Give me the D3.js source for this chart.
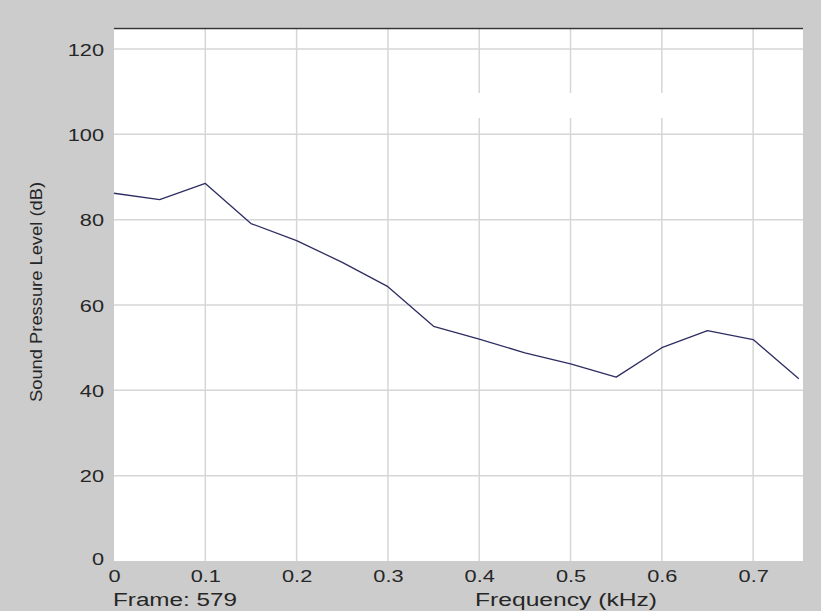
<!DOCTYPE html>
<html>
<head>
<meta charset="utf-8">
<script src="https://cdn.jsdelivr.net/npm/d3@7"></script>
<style>
  html, body { margin: 0; padding: 0; background: #cccccc; }
  svg { display: block; }
  text { font-family: "Liberation Sans", Arial, Helvetica, sans-serif; fill: #262626; }
</style>
</head>
<body>
<svg id="chart" width="821" height="611"></svg>
<script>
// Spectrum of one analysis frame
const frequencyKHz = [0, 0.05, 0.1, 0.15, 0.2, 0.25, 0.3, 0.35, 0.4, 0.45, 0.5, 0.55, 0.6, 0.65, 0.7, 0.75];
const soundPressureDb = [86.2, 84.7, 88.5, 79.1, 75.1, 70.0, 64.3, 55.0, 52.0, 48.8, 46.2, 43.1, 50.0, 54.0, 51.9, 42.7];

const xTickValues = [0, 0.1, 0.2, 0.3, 0.4, 0.5, 0.6, 0.7];
const xTickLabels = ["0", "0.1", "0.2", "0.3", "0.4", "0.5", "0.6", "0.7"];
const yTickValues = [0, 20, 40, 60, 80, 100, 120];
const yTickLabels = ["0", "20", "40", "60", "80", "100", "120"];

const xTitle = "Frequency (kHz)";
const yTitle = "Sound Pressure Level (dB)";
const frameLabel = "Frame: 579";

const plotLeft = 114, plotRight = 803, plotTop = 27.7, plotBottom = 561;
const stretch = 1.28; // wide glyphs of the tick labels

const svg = d3.select("#chart");

const x = d3.scaleLinear().domain([0, 0.7546]).range([plotLeft, plotRight]);
const y = d3.scaleLinear().domain([0, 125]).range([plotBottom, plotTop]);

// plot area
svg.append("rect")
  .attr("x", plotLeft).attr("y", plotTop)
  .attr("width", plotRight - plotLeft).attr("height", plotBottom - plotTop)
  .attr("fill", "#ffffff");

// grid
const grid = svg.append("g").attr("stroke", "#d6d6d6").attr("stroke-width", 1.5);
grid.selectAll("line.v")
  .data(xTickValues.filter(d => d > 0))
  .join("line")
  .attr("class", "v")
  .attr("x1", d => x(d)).attr("x2", d => x(d))
  .attr("y1", plotTop).attr("y2", plotBottom);
grid.selectAll("line.h")
  .data(yTickValues.filter(d => d > 0))
  .join("line")
  .attr("class", "h")
  .attr("x1", plotLeft).attr("x2", plotRight)
  .attr("y1", d => y(d)).attr("y2", d => y(d));

// empty legend box
svg.append("rect")
  .attr("x", 432).attr("y", 93)
  .attr("width", 274).attr("height", 25)
  .attr("fill", "#ffffff");

// top border
svg.append("line")
  .attr("x1", plotLeft).attr("x2", plotRight)
  .attr("y1", plotTop + 0.8).attr("y2", plotTop + 0.8)
  .attr("stroke", "#333333").attr("stroke-width", 1.6);

// spectrum line
const line = d3.line()
  .x((d, i) => x(frequencyKHz[i]))
  .y(d => y(d));
svg.append("path")
  .datum(soundPressureDb)
  .attr("d", line)
  .attr("fill", "none")
  .attr("stroke", "#2d2d62")
  .attr("stroke-width", 1.3)
  .attr("stroke-linejoin", "round");

// x axis
const xAxis = d3.axisBottom(x)
  .tickValues(xTickValues)
  .tickSize(0)
  .tickFormat((d, i) => xTickLabels[i]);
const gx = svg.append("g")
  .attr("transform", `translate(0,${plotBottom})`)
  .call(xAxis);
gx.select(".domain").remove();
gx.selectAll("text")
  .attr("y", 21).attr("dy", null)
  .attr("transform", `scale(${stretch},1)`)
  .style("font-size", "17px")
  .style("font-family", "'Liberation Sans', Arial, sans-serif")
  .attr("fill", "#262626");

// y axis
const yAxis = d3.axisLeft(y)
  .tickValues(yTickValues)
  .tickSize(0)
  .tickFormat((d, i) => yTickLabels[i]);
const gy = svg.append("g")
  .attr("transform", `translate(${plotLeft},0)`)
  .call(yAxis);
gy.select(".domain").remove();
gy.selectAll("text")
  .attr("x", -10 / stretch).attr("dy", "0.36em")
  .attr("transform", `scale(${stretch},1)`)
  .style("font-size", "17px")
  .style("font-family", "'Liberation Sans', Arial, sans-serif")
  .attr("fill", "#262626");
gy.selectAll(".tick").filter(d => d === 0)
  .select("text").attr("dy", "0.2em");

// titles
svg.append("text")
  .attr("x", 475).attr("y", 606)
  .attr("textLength", 182).attr("lengthAdjust", "spacingAndGlyphs")
  .style("font-size", "18px")
  .text(xTitle);

svg.append("text")
  .attr("x", 113).attr("y", 606)
  .attr("textLength", 124).attr("lengthAdjust", "spacingAndGlyphs")
  .style("font-size", "18px")
  .text(frameLabel);

svg.append("text")
  .attr("transform", "translate(42,402) rotate(-90)")
  .attr("x", 0).attr("y", 0)
  .attr("textLength", 220).attr("lengthAdjust", "spacingAndGlyphs")
  .style("font-size", "17px")
  .text(yTitle);
</script>
</body>
</html>
